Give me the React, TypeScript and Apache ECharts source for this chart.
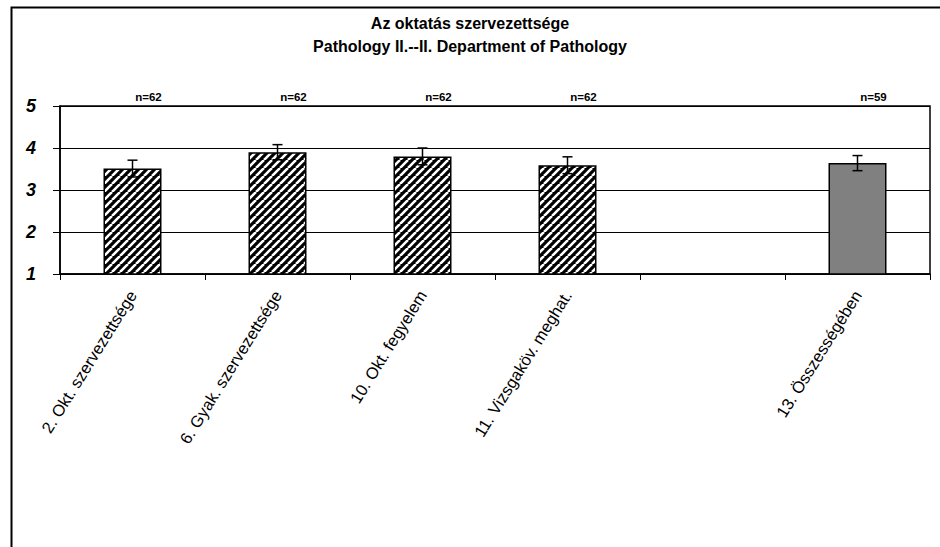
import React, { useEffect, useRef } from "react";
import * as echarts from "echarts";

const titleLines = ["Az oktatás szervezettsége", "Pathology II.--II. Department of Pathology"];
const categories = [
  "2. Okt. szervezettsége",
  "6. Gyak. szervezettsége",
  "10. Okt. fegyelem",
  "11. Vizsgaköv. meghat.",
  "",
  "13. Összességében",
];
const means: (number | null)[] = [3.51, 3.9, 3.8, 3.59, null, 3.64];
const errors: (number | null)[] = [0.2, 0.18, 0.2, 0.2, null, 0.18];
const counts: (number | null)[] = [62, 62, 62, 62, null, 59];
const hatched = [true, true, true, true, false, false];
const yTicks = { min: 1, max: 5, interval: 1 };

function makeHatch(): HTMLCanvasElement {
  const c = document.createElement("canvas");
  c.width = 8;
  c.height = 8;
  const ctx = c.getContext("2d")!;
  ctx.fillStyle = "#000";
  ctx.fillRect(0, 0, 8, 8);
  ctx.strokeStyle = "#fff";
  ctx.lineWidth = 2.6;
  for (const k of [-8, 0, 8]) {
    ctx.beginPath();
    ctx.moveTo(k, 8);
    ctx.lineTo(k + 8, 0);
    ctx.stroke();
  }
  return c;
}

export default function App() {
  const ref = useRef<HTMLDivElement>(null);
  useEffect(() => {
    document.body.style.margin = "0";
    const chart = echarts.init(ref.current!, null, { renderer: "svg" });
    const hatch = makeHatch();
    const font = "'Liberation Sans', Arial, sans-serif";

    const barData = means.map((v, i) =>
      v == null
        ? null
        : {
            value: v,
            itemStyle: hatched[i]
              ? { color: { image: hatch, repeat: "repeat", imageWidth: 8, imageHeight: 8 } as any }
              : { color: "#808080" },
          }
    );
    const errData = means
      .map((v, i) => (v == null ? null : [i, v - (errors[i] as number), v + (errors[i] as number)]))
      .filter((d) => d != null);
    const nData = counts.map((n, i) => (n == null ? null : [i, yTicks.max])).filter((d) => d != null);
    const nLabels = counts.filter((n) => n != null);

    chart.setOption({
      animation: false,
      textStyle: { fontFamily: font },
      title: {
        text: titleLines.join("\n"),
        left: "center",
        top: 7,
        textStyle: { fontSize: 16, fontWeight: "bold", color: "#000", lineHeight: 23, fontFamily: font },
      },
      graphic: [
        {
          type: "rect",
          shape: { x: 11.5, y: 7.5, width: 1000, height: 1000 },
          style: { fill: "none", stroke: "#000", lineWidth: 2 },
          silent: true,
        },
      ],
      grid: { left: 60, right: 10, top: 106, bottom: 273, show: true, borderColor: "#000", borderWidth: 1.5 },
      xAxis: {
        type: "category",
        data: categories,
        axisLine: { lineStyle: { color: "#000", width: 1.5 } },
        axisTick: { show: true, alignWithLabel: false, length: 6, lineStyle: { color: "#000" } },
        axisLabel: {
          rotate: 58,
          interval: 0,
          margin: 18,
          fontSize: 16.5,
          color: "#000",
          fontFamily: font,
        },
      },
      yAxis: {
        type: "value",
        min: yTicks.min,
        max: yTicks.max,
        interval: yTicks.interval,
        axisLine: { show: true, lineStyle: { color: "#000", width: 1.5 } },
        axisTick: { show: true, length: 7, lineStyle: { color: "#000" } },
        splitLine: { show: true, lineStyle: { color: "#000", width: 1 } },
        axisLabel: {
          margin: 24,
          fontSize: 18,
          fontWeight: "bold",
          fontStyle: "italic",
          color: "#000",
          fontFamily: font,
        },
      },
      series: [
        {
          type: "bar",
          data: barData,
          barWidth: "40%",
          itemStyle: { borderColor: "#000", borderWidth: 1.5 },
          z: 2,
        },
        {
          type: "custom",
          data: errData,
          encode: { x: 0, y: [1, 2] },
          z: 3,
          renderItem: (params: any, api: any) => {
            const x = api.value(0);
            const top = api.coord([x, api.value(2)]);
            const bot = api.coord([x, api.value(1)]);
            const w = 5;
            const st = { stroke: "#000", lineWidth: 1.5 };
            return {
              type: "group",
              children: [
                { type: "line", shape: { x1: top[0], y1: top[1], x2: bot[0], y2: bot[1] }, style: st },
                { type: "line", shape: { x1: top[0] - w, y1: top[1], x2: top[0] + w, y2: top[1] }, style: st },
                { type: "line", shape: { x1: bot[0] - w, y1: bot[1], x2: bot[0] + w, y2: bot[1] }, style: st },
              ],
            };
          },
        },
        {
          type: "custom",
          data: nData,
          encode: { x: 0, y: 1 },
          z: 4,
          renderItem: (params: any, api: any) => {
            const p = api.coord([api.value(0), api.value(1)]);
            return {
              type: "text",
              x: p[0] + 16,
              y: p[1] - 9,
              style: {
                text: "n=" + nLabels[params.dataIndex],
                fill: "#000",
                font: "bold 11.5px " + font,
                align: "center",
                verticalAlign: "middle",
              },
            };
          },
        },
      ],
    });
    return () => chart.dispose();
  }, []);
  return <div ref={ref} style={{ width: 940, height: 547, background: "#fff" }} />;
}
